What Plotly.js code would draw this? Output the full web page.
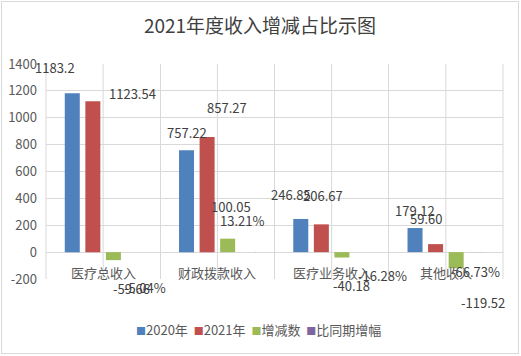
<!DOCTYPE html>
<html>
<head>
<meta charset="utf-8">
<script src="https://cdn.plot.ly/plotly-3.0.1.min.js"></script>
<style>
html,body{margin:0;padding:0;background:#fff;}
#wrap{position:absolute;left:1px;top:1px;width:516px;height:351px;border:1px solid #d9d9d9;}
#chart{width:516px;height:351px;}
</style>
</head>
<body>
<div id="wrap"><div id="chart"></div></div>
<script>
// ---- data ----
const categories = ['医疗总收入', '财政拨款收入', '医疗业务收入', '其他收入'];
const seriesNames = ['2020年', '2021年', '增减数', '比同期增幅'];
const values2020 = [1183.2, 757.22, 246.85, 179.12];
const values2021 = [1123.54, 857.27, 206.67, 59.60];
const valuesDiff = [-59.66, 100.05, -40.18, -119.52];
const valuesRate = [-0.0504, 0.1321, -0.1628, -0.6673];
const labels2020 = ['1183.2', '757.22', '246.85', '179.12'];
const labels2021 = ['1123.54', '857.27', '206.67', '59.60'];
const labelsDiff = ['-59.66', '100.05', '-40.18', '-119.52'];
const labelsRate = ['-5.04%', '13.21%', '-16.28%', '-66.73%'];
const yTicks = [-200, 0, 200, 400, 600, 800, 1000, 1200, 1400];

// ---- styles / label placement (pixel offsets) ----
const colors = ['#4f81bd', '#c0504d', '#9bbb59', '#8064a2'];
const offsets = [
  [[-48, 26], [-30, 18], [-41, 24], [-31, 18]],
  [[29, 8], [10, 29], [-9, 29], [-20, 26]],
  [[28, -28], [14, 32], [20, -28], [37, -34]],
  [[42, -35], [25, 32], [51, -23], [30, -19]]
];
const narrow = '"Liberation Sans Narrow", "Noto Sans CJK SC", sans-serif';
const txtFont = {family: narrow, size: 13, color: '#404040'};
const axFont = {family: narrow, size: 13, color: '#595959'};

const allVals = [values2020, values2021, valuesDiff, valuesRate];
const allLabels = [labels2020, labels2021, labelsDiff, labelsRate];

const traces = allVals.map((v, i) => ({
  type: 'bar', x: categories, y: v, name: seriesNames[i],
  marker: {color: colors[i]}, hoverinfo: 'skip'
}));

const annotations = [];
allVals.forEach((v, s) => {
  v.forEach((val, c) => {
    annotations.push({
      x: categories[c], y: val, xref: 'x', yref: 'y',
      text: allLabels[s][c], showarrow: false,
      xanchor: 'center', yanchor: 'middle',
      xshift: offsets[s][c][0], yshift: offsets[s][c][1],
      font: txtFont
    });
  });
});
categories.forEach(c => {
  annotations.push({
    x: c, y: 0, xref: 'x', yref: 'y', text: c, showarrow: false,
    xanchor: 'center', yanchor: 'top', yshift: -9,
    font: {family: '"Noto Sans CJK SC", sans-serif', size: 13, color: '#595959'}
  });
});
// legend drawn as a text line built from series names and colours
const legendText = seriesNames.map((n, i) =>
  '<span style="color:' + colors[i] + ';font-size:10px">■</span>' + n
).join(' &nbsp;');
annotations.push({
  xref: 'paper', yref: 'paper', x: 0.466, y: -0.237, xanchor: 'center', yanchor: 'middle',
  text: legendText, showarrow: false,
  font: {family: '"Noto Sans CJK SC", sans-serif', size: 13, color: '#595959'}
});

const shapes = categories.map((c, i) => ({
  type: 'line', xref: 'x', yref: 'paper', x0: i, x1: i, y0: 0, y1: 1,
  line: {color: '#d9d9d9', width: 1}, layer: 'below'
}));
shapes.push({type: 'line', xref: 'paper', yref: 'paper', x0: 0, x1: 0, y0: 0, y1: 1, line: {color: '#d9d9d9', width: 1}, layer: 'below'});
shapes.push({type: 'line', xref: 'paper', yref: 'paper', x0: 1, x1: 1, y0: 0, y1: 1, line: {color: '#d9d9d9', width: 1}, layer: 'below'});

const layout = {
  width: 516, height: 351,
  margin: {l: 44, r: 15, t: 62, b: 74},
  paper_bgcolor: '#ffffff', plot_bgcolor: '#ffffff',
  title: {
    text: '2021年度收入增减占比示图',
    font: {family: '"Noto Sans CJK SC", sans-serif', size: 19, color: '#404040'},
    x: 0.5, xref: 'container', xanchor: 'center',
    y: 0.932, yref: 'container', yanchor: 'middle'
  },
  barmode: 'group', bargap: 0.28, bargroupgap: 0.27,
  xaxis: {
    type: 'category', range: [-0.5, 3.5], autorange: false,
    tickson: 'boundaries', showgrid: true, gridcolor: '#d9d9d9',
    showticklabels: false, ticks: '', showline: false, zeroline: false, fixedrange: true,
    automargin: false
  },
  yaxis: {
    range: [-200, 1400], autorange: false, tickvals: yTicks, ticktext: yTicks.map(String),
    showgrid: true, gridcolor: '#d9d9d9', zeroline: true, zerolinecolor: '#d9d9d9', zerolinewidth: 1,
    showline: false, tickfont: axFont, ticklabelstandoff: 8, fixedrange: true,
    automargin: false
  },
  showlegend: false,
  annotations: annotations,
  shapes: shapes
};

Plotly.newPlot('chart', traces, layout, {displayModeBar: false, staticPlot: true});
</script>
</body>
</html>
